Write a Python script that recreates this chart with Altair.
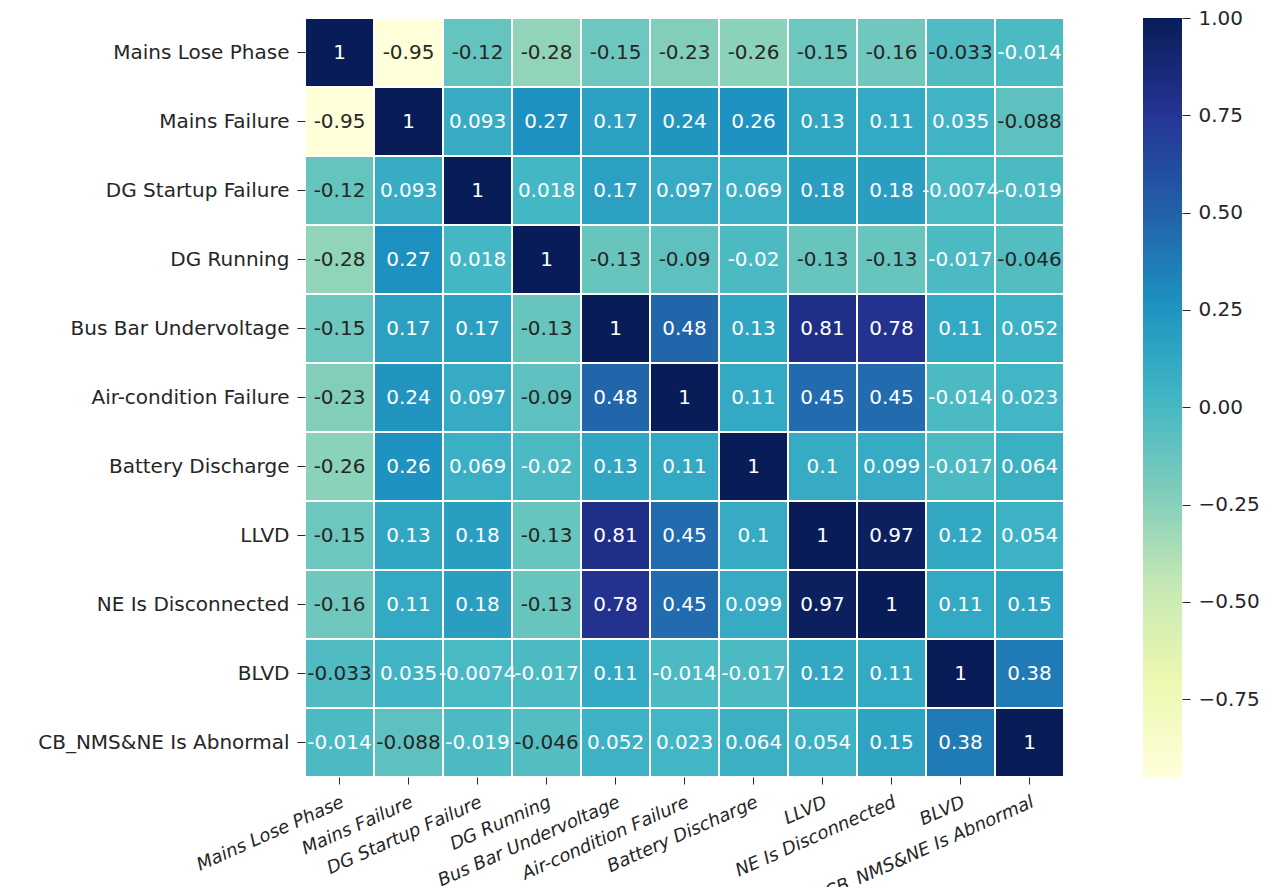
import altair as alt
import numpy as np
import pandas as pd

labels = [
    "Mains Lose Phase", "Mains Failure", "DG Startup Failure", "DG Running",
    "Bus Bar Undervoltage", "Air-condition Failure", "Battery Discharge",
    "LLVD", "NE Is Disconnected", "BLVD", "CB_NMS&NE Is Abnormal",
]

row_mains_lose = [1, -0.95, -0.12, -0.28, -0.15, -0.23, -0.26, -0.15, -0.16, -0.033, -0.014]
row_mains_fail = [-0.95, 1, 0.093, 0.27, 0.17, 0.24, 0.26, 0.13, 0.11, 0.035, -0.088]
row_dg_startup = [-0.12, 0.093, 1, 0.018, 0.17, 0.097, 0.069, 0.18, 0.18, -0.0074, -0.019]
row_dg_running = [-0.28, 0.27, 0.018, 1, -0.13, -0.09, -0.02, -0.13, -0.13, -0.017, -0.046]
row_busbar = [-0.15, 0.17, 0.17, -0.13, 1, 0.48, 0.13, 0.81, 0.78, 0.11, 0.052]
row_aircon = [-0.23, 0.24, 0.097, -0.09, 0.48, 1, 0.11, 0.45, 0.45, -0.014, 0.023]
row_battery = [-0.26, 0.26, 0.069, -0.02, 0.13, 0.11, 1, 0.1, 0.099, -0.017, 0.064]
row_llvd = [-0.15, 0.13, 0.18, -0.13, 0.81, 0.45, 0.1, 1, 0.97, 0.12, 0.054]
row_ne = [-0.16, 0.11, 0.18, -0.13, 0.78, 0.45, 0.099, 0.97, 1, 0.11, 0.15]
row_blvd = [-0.033, 0.035, -0.0074, -0.017, 0.11, -0.014, -0.017, 0.12, 0.11, 1, 0.38]
row_cb = [-0.014, -0.088, -0.019, -0.046, 0.052, 0.023, 0.064, 0.054, 0.15, 0.38, 1]

rows = [row_mains_lose, row_mains_fail, row_dg_startup, row_dg_running, row_busbar,
        row_aircon, row_battery, row_llvd, row_ne, row_blvd, row_cb]

cbar_ticks = [-0.75, -0.5, -0.25, 0.0, 0.25, 0.5, 0.75, 1.0]
vmin, vmax = -0.95, 1.0

ylgnbu = ["#ffffd9", "#edf8b1", "#c7e9b4", "#7fcdbb", "#41b6c4",
          "#1d91c0", "#225ea8", "#253494", "#081d58"]

records = []
for i, rname in enumerate(labels):
    for j, cname in enumerate(labels):
        v = rows[i][j]
        records.append({"row": rname, "col": cname, "value": v, "label": format(v, ".2g")})
df = pd.DataFrame(records)

stops = list(np.linspace(vmin, vmax, len(ylgnbu)))

W = 759
H = 759
FONT = "DejaVu Sans"
TXT = "#262626"

base = alt.Chart(df).encode(
    x=alt.X("col:N", sort=labels, title=None,
            axis=alt.Axis(labelAngle=-24, labelAlign="right", labelBaseline="top",
                          labelFontSize=18, labelFontStyle="italic", labelColor=TXT,
                          tickSize=7, tickColor=TXT, labelPadding=9, domain=False,
                          labelOverlap=False, labelLimit=400)),
    y=alt.Y("row:N", sort=labels, title=None,
            axis=alt.Axis(labelFontSize=20, labelColor=TXT, tickSize=8, tickColor=TXT,
                          labelPadding=8, domain=False, labelLimit=400)),
)

heat = base.mark_rect(stroke="white", strokeWidth=2).encode(
    color=alt.Color("value:Q", legend=None,
                    scale=alt.Scale(domain=stops, range=ylgnbu, interpolate="rgb")),
)

text = base.mark_text(fontSize=20, font=FONT).encode(
    text="label:N",
    color=alt.condition(alt.datum.value < -0.025, alt.value(TXT), alt.value("white")),
)

cb_df = pd.DataFrame({"top": [vmax], "bottom": [vmin]})
grad = alt.LinearGradient(
    gradient="linear",
    stops=[alt.GradientStop(offset=k / (len(ylgnbu) - 1), color=c) for k, c in enumerate(ylgnbu)],
    x1=0, x2=0, y1=1, y2=0,
)
cbar = alt.Chart(cb_df).mark_rect(color=grad).encode(
    x=alt.value(838), x2=alt.value(877),
    y=alt.Y("top:Q", scale=alt.Scale(domain=[vmin, vmax], nice=False, zero=False),
            title=None,
            axis=alt.Axis(orient="right", offset=118, values=cbar_ticks, format=".2f",
                          labelFontSize=20, labelColor=TXT, tickSize=8, tickColor=TXT,
                          labelPadding=8, domain=False, grid=False)),
    y2="bottom:Q",
)

chart = alt.layer(alt.layer(heat, text), cbar).resolve_scale(y="independent").properties(
    width=W, height=H,
    autosize=alt.AutoSizeParams(type="none"),
    padding={"left": 297, "top": 10, "right": 200, "bottom": 110},
).configure(font=FONT).configure_view(stroke=None)

chart.save("out.html", embed_options={"renderer": "svg", "actions": False})
